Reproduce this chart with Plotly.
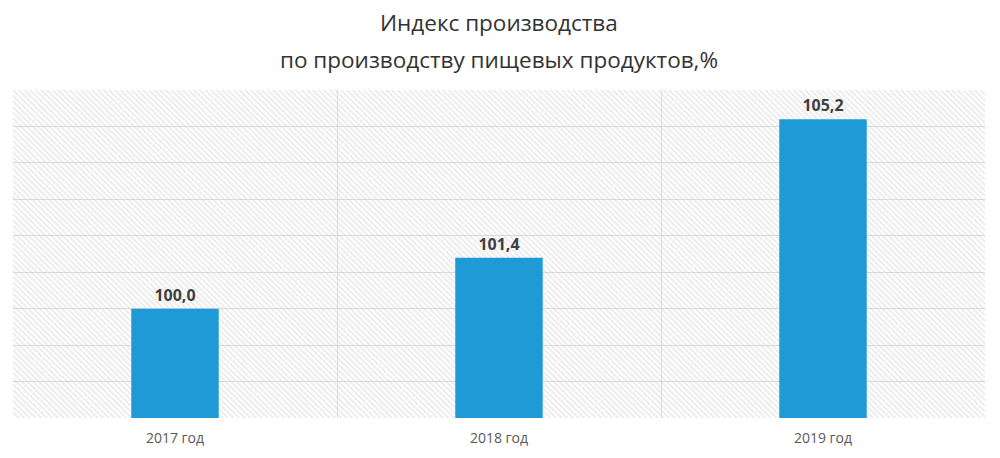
import plotly.graph_objects as go

# Daten
years = ["2017 год", "2018 год", "2019 год"]
index_values = [100.0, 101.4, 105.2]
labels = ["100,0", "101,4", "105,2"]
title_lines = ["Индекс производства", "по производству пищевых продуктов,%"]

y_min = 97
y_max = 106

fig = go.Figure()

# schraffierter Hintergrund der Zeichenfläche
fig.add_trace(go.Bar(
    x=years,
    y=[y_max - y_min] * len(years),
    base=y_min,
    width=1,
    marker=dict(
        color="rgba(0,0,0,0)",
        line=dict(width=0),
        pattern=dict(shape="\\", fgcolor="#d2d2d2", bgcolor="rgba(255,255,255,0)",
                     size=4, solidity=0.38),
    ),
    hoverinfo="skip",
    showlegend=False,
))

# Balken
fig.add_trace(go.Bar(
    x=years,
    y=[v - y_min for v in index_values],
    base=y_min,
    width=0.27,
    marker=dict(color="#1e9bd7", line=dict(width=0)),
    text=labels,
    textposition="outside",
    textfont=dict(family="Open Sans", size=16, color="#404040", weight="bold"),
    cliponaxis=False,
    showlegend=False,
))

# Titel als zwei Zeilen (Zeilenabstand wie im Original)
for line, ypos in zip(title_lines, [1.207, 1.0915]):
    fig.add_annotation(
        text=line,
        xref="paper", yref="paper",
        x=0.5, y=ypos,
        xanchor="center", yanchor="middle",
        showarrow=False,
        font=dict(family="Open Sans", size=22.5, color="#333333"),
    )

fig.update_layout(
    width=1000,
    height=458,
    barmode="overlay",
    margin=dict(l=5, r=23, t=82, b=48),
    plot_bgcolor="white",
    paper_bgcolor="white",
    xaxis=dict(
        tickson="boundaries",
        showgrid=True,
        gridcolor="#dedede",
        ticks="",
        ticklabelstandoff=10,
        tickfont=dict(family="Open Sans", size=14, color="#595959"),
        range=[-0.5, 2.5],
        showline=False,
        zeroline=False,
    ),
    yaxis=dict(
        range=[y_min, y_max],
        dtick=1,
        showgrid=True,
        gridcolor="#dadada",
        showticklabels=False,
        zeroline=False,
        showline=False,
    ),
)

fig.write_html("out.html")
